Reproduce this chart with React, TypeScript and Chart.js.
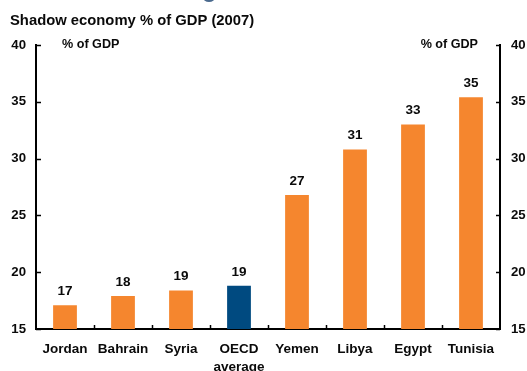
import React, { useEffect, useRef } from "react";
import { Chart, registerables } from "chart.js";

Chart.register(...registerables);

const categories: (string | string[])[] = ["Jordan", "Bahrain", "Syria", ["OECD", "average"], "Yemen", "Libya", "Egypt", "Tunisia"];
const shadowValues: number[] = [17.1, 17.9, 18.4, 18.8, 26.8, 30.8, 33.0, 35.4];
const valueLabels: string[] = ["17", "18", "19", "19", "27", "31", "33", "35"];
const barColors: string[] = ["#F5862E", "#F5862E", "#F5862E", "#004A80", "#F5862E", "#F5862E", "#F5862E", "#F5862E"];
const titleText = "Shadow economy % of GDP (2007)";
const unitText = "% of GDP";

const FONT = "'Liberation Sans', Arial, sans-serif";

const overlayPlugin = {
  id: "overlay",
  afterDraw(chart: any) {
    const ctx = chart.ctx;
    const area = chart.chartArea;
    const x = chart.scales.x;
    const y = chart.scales.y;
    ctx.save();
    // title
    ctx.fillStyle = "#0a0a0a";
    ctx.font = `bold 14.8px ${FONT}`;
    ctx.textAlign = "left";
    ctx.textBaseline = "middle";
    ctx.fillText(titleText, 10, 21);
    // unit labels
    ctx.font = `bold 12.6px ${FONT}`;
    ctx.fillText(unitText, 62, 45);
    ctx.textAlign = "right";
    ctx.fillText(unitText, 478, 45);
    // ticks y (inward)
    ctx.strokeStyle = "#000";
    ctx.lineWidth = 1.5;
    y.ticks.forEach((t: any) => {
      const py = Math.round(y.getPixelForValue(t.value)) + 0.5;
      ctx.beginPath();
      ctx.moveTo(area.left, py);
      ctx.lineTo(area.left + 5, py);
      ctx.moveTo(area.right, py);
      ctx.lineTo(area.right - 4, py);
      ctx.stroke();
    });
    // ticks x between categories
    for (let i = 1; i < categories.length; i++) {
      const px = Math.round((x.getPixelForValue(i - 1) + x.getPixelForValue(i)) / 2) + 0.5;
      ctx.beginPath();
      ctx.moveTo(px, area.bottom);
      ctx.lineTo(px, area.bottom - 4);
      ctx.stroke();
    }
    // data labels
    const meta = chart.getDatasetMeta(0);
    ctx.font = `bold 13.5px ${FONT}`;
    ctx.textAlign = "center";
    ctx.fillStyle = "#0a0a0a";
    meta.data.forEach((bar: any, i: number) => {
      ctx.fillText(valueLabels[i], bar.x, bar.y - 14);
    });
    ctx.restore();
  },
};

export default function App() {
  const ref = useRef<HTMLCanvasElement | null>(null);
  useEffect(() => {
    document.body.style.margin = "0";
    const chart = new Chart(ref.current!, {
      type: "bar",
      data: {
        labels: categories as any,
        datasets: [
          {
            data: shadowValues,
            backgroundColor: barColors,
            barPercentage: 0.82,
            categoryPercentage: 0.5,
            yAxisID: "y",
          },
        ],
      },
      options: {
        animation: false,
        responsive: false,
        maintainAspectRatio: false,
        layout: { padding: { top: 45, left: 0, right: 0, bottom: 0 } },
        plugins: { legend: { display: false }, tooltip: { enabled: false }, title: { display: false } },
        scales: {
          x: {
            grid: { display: true, drawOnChartArea: false, drawTicks: false },
            border: { display: true, color: "#000", width: 2 },
            ticks: {
              color: "#0a0a0a",
              font: { family: FONT, size: 13.5, weight: "bold", lineHeight: 1.28 },
              padding: 12,
              maxRotation: 0,
              autoSkip: false,
            },
            afterFit(scale: any) {
              scale.height = 42;
            },
          },
          y: {
            position: "left",
            min: 15,
            max: 40,
            ticks: { stepSize: 5, color: "#0a0a0a", padding: 10, font: { family: FONT, size: 13.2, weight: "bold" } },
            grid: { display: true, drawOnChartArea: false, drawTicks: false },
            border: { display: true, color: "#000", width: 2 },
            afterFit(scale: any) {
              scale.width = 36;
            },
          },
          y2: {
            position: "right",
            min: 15,
            max: 40,
            ticks: { stepSize: 5, color: "#0a0a0a", padding: 11, font: { family: FONT, size: 13.2, weight: "bold" } },
            grid: { display: true, drawOnChartArea: false, drawTicks: false },
            border: { display: true, color: "#000", width: 2 },
            afterFit(scale: any) {
              scale.width = 27;
            },
          },
        },
      },
      plugins: [overlayPlugin],
    });
    return () => chart.destroy();
  }, []);
  return (
    <div style={{ position: "relative", width: 527, height: 371, background: "#fff", overflow: "hidden" }}>
      <div style={{ position: "absolute", left: 203, top: -7, width: 12, height: 9, borderRadius: "50%", background: "#4A6A8E" }} />
      <canvas ref={ref} width={527} height={371} style={{ display: "block" }} />
    </div>
  );
}
